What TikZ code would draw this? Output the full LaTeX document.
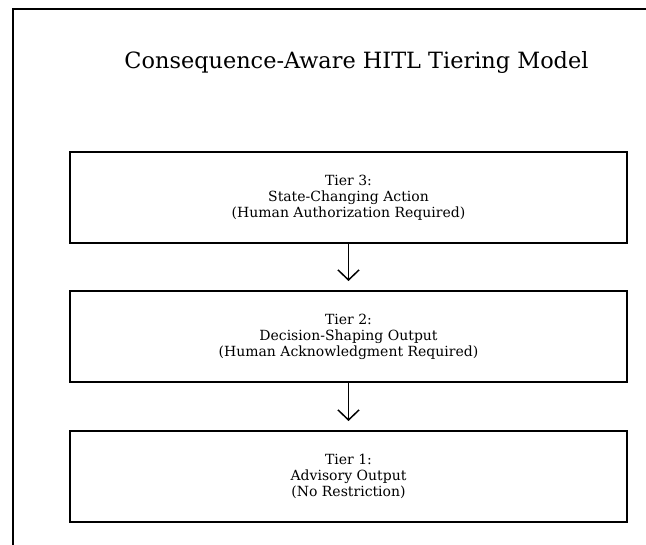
\documentclass[tikz,border=0pt]{standalone}
\usepackage{fontspec}
\setmainfont{DejaVu Serif}
\usetikzlibrary{arrows.meta}
\begin{document}
\begin{tikzpicture}[x=1bp,y=-1bp,
  tierbox/.style={draw,line width=2bp,minimum width=557bp,minimum height=91bp,
    align=center,font=\fontsize{14bp}{16bp}\selectfont,inner sep=0pt},
  flow/.style={line width=1.5bp,-{Straight Barb[length=10bp,width=21bp,line width=1.5bp]},shorten >=9bp},
  frameline/.style={line width=2bp}]
\useasboundingbox (0,0) rectangle (646,545);
% outer frame (only the top and left edges fall inside the page)
\coordinate (fbl) at (12.5,546);
\coordinate (ftl) at (12.5,9.5);
\coordinate (ftr) at (647,9.5);
\draw[frameline] (fbl) -- (ftl) -- (ftr);
% title
\node[anchor=base] (title) at (356.5,69) {\fontsize{22.4bp}{26bp}\selectfont Consequence-Aware HITL Tiering Model};
% tiers
\node[tierbox] (t3) at (348.5,197.5) {Tier 3:\\State-Changing Action\\(Human Authorization Required)};
\node[tierbox] (t2) at (348.5,336.5) {Tier 2:\\Decision-Shaping Output\\(Human Acknowledgment Required)};
\node[tierbox] (t1) at (348.5,476.5) {Tier 1:\\Advisory Output\\(No Restriction)};
\draw[flow] (t3.south) -- (t2.north);
\draw[flow] (t2.south) -- (t1.north);
\end{tikzpicture}
\end{document}
